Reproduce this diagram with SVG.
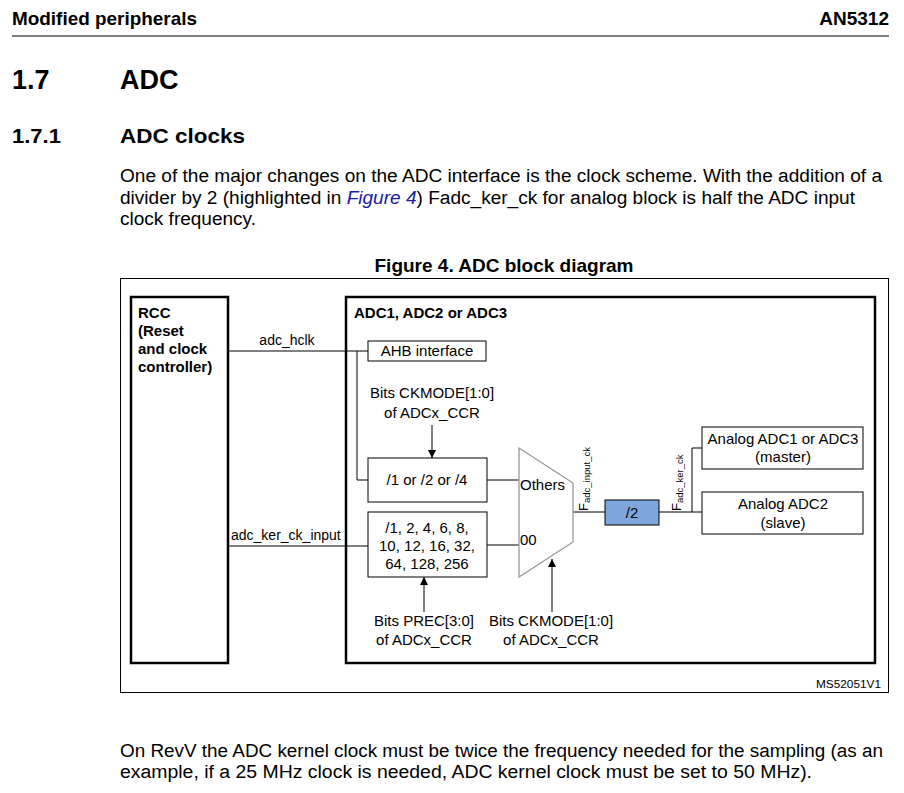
<svg xmlns="http://www.w3.org/2000/svg" width="904" height="793" viewBox="0 0 904 793">
<defs>
<style>
text{font-family:"Liberation Sans",Arial,sans-serif;fill:#000}
.h{font-weight:bold}
.body{font-size:18px}
.lbl{font-size:15px}
.sm{font-size:14px}
.b{font-weight:bold;font-size:15px}
.box{fill:#fff;stroke:#000;stroke-width:1}
.thick{fill:none;stroke:#000;stroke-width:2.5}
.ln{fill:none;stroke:#000;stroke-width:1}
.c{text-anchor:middle}
</style>
<marker id="arr" viewBox="0 0 10 10" refX="10" refY="5" markerWidth="8" markerHeight="8" markerUnits="userSpaceOnUse" orient="auto">
<path d="M0,0 L10,5 L0,10 z" fill="#000"/>
</marker>
</defs>
<rect width="904" height="793" fill="#fff"/>
<g id="page-text">
<text x="12" y="25" class="h" font-size="19" textLength="185" lengthAdjust="spacingAndGlyphs">Modified peripherals</text>
<text x="889" y="25" class="h" font-size="19" text-anchor="end">AN5312</text>
<line x1="12" y1="36" x2="889" y2="36" stroke="#000" stroke-width="1.2"/>
<text x="12" y="89" class="h" font-size="27">1.7</text>
<text x="120" y="89" class="h" font-size="27">ADC</text>
<text x="12" y="143" class="h" font-size="21" textLength="49" lengthAdjust="spacingAndGlyphs">1.7.1</text>
<text x="120" y="143" class="h" font-size="21" textLength="125" lengthAdjust="spacingAndGlyphs">ADC clocks</text>
<text x="120" y="182" class="body" textLength="762" lengthAdjust="spacingAndGlyphs">One of the major changes on the ADC interface is the clock scheme. With the addition of a</text>
<text x="120" y="204" class="body" textLength="735" lengthAdjust="spacingAndGlyphs">divider by 2 (highlighted in <tspan fill="#1a1aa6" font-style="italic">Figure 4</tspan>) Fadc_ker_ck for analog block is half the ADC input</text>
<text x="120" y="225" class="body" textLength="136" lengthAdjust="spacingAndGlyphs">clock frequency.</text>
<text x="504" y="272" class="h c" font-size="18.5" textLength="259" lengthAdjust="spacingAndGlyphs">Figure 4. ADC block diagram</text>
<text x="120" y="757" class="body" textLength="763" lengthAdjust="spacingAndGlyphs">On RevV the ADC kernel clock must be twice the frequency needed for the sampling (as an</text>
<text x="120" y="778" class="body" textLength="692" lengthAdjust="spacingAndGlyphs">example, if a 25 MHz clock is needed, ADC kernel clock must be set to 50 MHz).</text>
</g>
<g id="frame">
<rect x="120.5" y="278.5" width="768" height="414" fill="none" stroke="#000" stroke-width="1"/>
<text x="881" y="688" font-size="11.5" text-anchor="end" textLength="65" lengthAdjust="spacingAndGlyphs">MS52051V1</text>
</g>
<g id="connectors">
<line class="ln" x1="228" y1="351" x2="368" y2="351"/>
<polyline class="ln" points="357,351 357,480 368,480"/>
<line class="ln" x1="228" y1="546" x2="368" y2="546"/>
<line class="ln" x1="432" y1="425" x2="432" y2="458" marker-end="url(#arr)"/>
<line class="ln" x1="487" y1="480" x2="519" y2="480"/>
<line class="ln" x1="487" y1="545" x2="519" y2="545"/>
<line class="ln" x1="424" y1="612" x2="424" y2="577" marker-end="url(#arr)"/>
<line class="ln" x1="552" y1="612" x2="552" y2="559" marker-end="url(#arr)"/>
<line class="ln" x1="573" y1="512" x2="605" y2="512"/>
<polyline class="ln" points="659,512 702,512"/>
<polyline class="ln" points="692,512 692,448 702,448"/>
</g>
<g id="rcc">
<rect class="thick" x="131" y="297" width="97" height="366"/>
<text x="138" y="318" class="b">RCC</text>
<text x="138" y="336" class="b">(Reset</text>
<text x="138" y="354" class="b">and clock</text>
<text x="138" y="372" class="b">controller)</text>
</g>
<g id="adc">
<rect class="thick" x="346" y="297" width="529" height="366"/>
<text x="354" y="318" class="b">ADC1, ADC2 or ADC3</text>
</g>
<g id="lbl-hclk"><text x="287" y="345" class="sm c">adc_hclk</text></g>
<g id="lbl-ker"><text x="231" y="540" class="sm">adc_ker_ck_input</text></g>
<g id="ahb">
<rect class="box" x="368" y="341" width="118" height="20"/>
<text x="427" y="356" class="lbl c">AHB interface</text>
</g>
<g id="ckmode-top">
<text x="432" y="398" class="lbl c">Bits CKMODE[1:0]</text>
<text x="432" y="418" class="lbl c">of ADCx_CCR</text>
</g>
<g id="div124">
<rect class="box" x="368" y="458" width="119" height="44"/>
<text x="427" y="485" class="lbl c">/1 or /2 or /4</text>
</g>
<g id="prescaler">
<rect class="box" x="368" y="512" width="119" height="65"/>
<text x="427" y="533" class="lbl c">/1, 2, 4, 6, 8,</text>
<text x="427" y="551" class="lbl c">10, 12, 16, 32,</text>
<text x="427" y="569" class="lbl c">64, 128, 256</text>
</g>
<g id="mux">
<polygon points="519,448 573,483 573,542 519,577" fill="#fff" stroke="#999" stroke-width="1.3"/>
<text x="520" y="490" class="lbl">Others</text>
<text x="520" y="545" class="lbl">00</text>
</g>
<g id="prec-lbl">
<text x="424" y="626" class="lbl c">Bits PREC[3:0]</text>
<text x="424" y="645" class="lbl c">of ADCx_CCR</text>
</g>
<g id="ckmode-bot">
<text x="551" y="626" class="lbl c">Bits CKMODE[1:0]</text>
<text x="551" y="645" class="lbl c">of ADCx_CCR</text>
</g>
<g id="f-input">
<text transform="translate(588,511) rotate(-90)" font-size="13">F<tspan font-size="9.5" dy="1.5">adc_input_ck</tspan></text>
</g>
<g id="div2">
<rect x="605" y="500" width="54" height="25" fill="#7ea6dc" stroke="#000" stroke-width="1"/>
<text x="632" y="518" class="lbl c">/2</text>
</g>
<g id="f-ker">
<text transform="translate(681,511) rotate(-90)" font-size="13">F<tspan font-size="9.5" dy="1.5">adc_ker_ck</tspan></text>
</g>
<g id="analog1">
<rect class="box" x="702" y="427" width="161" height="42"/>
<text x="783" y="444" class="lbl c">Analog ADC1 or ADC3</text>
<text x="783" y="462" class="lbl c">(master)</text>
</g>
<g id="analog2">
<rect class="box" x="702" y="492" width="161" height="42"/>
<text x="783" y="509" class="lbl c">Analog ADC2</text>
<text x="783" y="528" class="lbl c">(slave)</text>
</g>
</svg>
